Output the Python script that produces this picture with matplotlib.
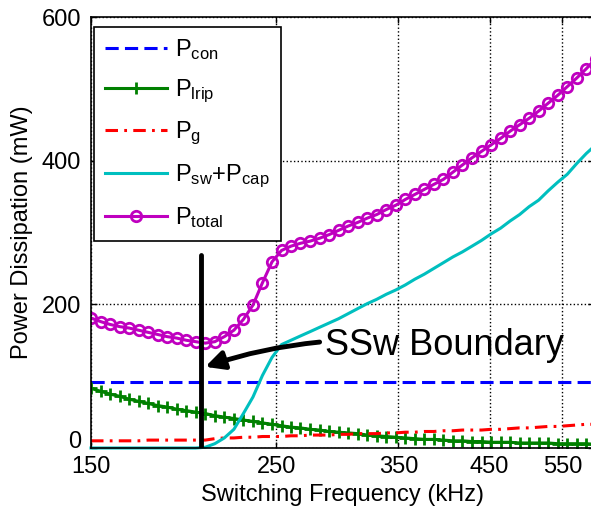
import numpy as np
import matplotlib
matplotlib.use('Agg')
import matplotlib.pyplot as plt
from matplotlib.ticker import FixedLocator, FixedFormatter, NullLocator

plt.rcParams['font.family'] = ['Liberation Sans', 'DejaVu Sans']
plt.rcParams['mathtext.fontset'] = 'custom'
plt.rcParams['mathtext.rm'] = 'Liberation Sans'
plt.rcParams['mathtext.it'] = 'Liberation Sans:italic'
plt.rcParams['lines.scale_dashes'] = False

# switching frequency grid (kHz)
freq = [150.0, 154.0, 158.1, 162.3, 166.6, 171.0, 175.6, 180.3, 185.1, 190.0,
        195.0, 200.2, 205.5, 211.0, 216.6, 222.4, 228.3, 234.4, 240.6, 247.0,
        253.6, 260.3, 267.2, 274.4, 281.6, 289.1, 296.8, 304.7, 312.8, 321.2,
        329.7, 338.5, 347.5, 356.7, 366.2, 375.9, 385.9, 396.2, 406.7, 417.5,
        428.7, 440.1, 451.8, 463.8, 476.1, 488.8, 501.8, 515.1, 528.8, 542.9,
        557.3, 572.1, 587.4, 603.0]

# power losses (mW)
p_con = [92] * len(freq)
p_lrip = [83, 79, 75, 72, 68, 65, 62, 59, 57, 54,
          52, 50, 48, 45, 43, 41, 39, 37, 35, 33,
          31, 29, 28, 26, 25, 23, 22, 21, 20, 18,
          17, 16, 15, 14, 13, 12, 12, 11, 10, 10,
          9, 9, 8, 8, 8, 7, 7, 7, 7, 6,
          6, 6, 6, 5]
p_g = [10, 10, 10, 10, 10, 10, 11, 11, 11, 11,
       11, 11, 11, 13, 14, 14, 15, 15, 16, 16,
       16, 17, 17, 18, 18, 18, 19, 19, 20, 20,
       20, 21, 21, 22, 22, 23, 23, 24, 24, 25,
       25, 25, 26, 26, 27, 28, 28, 29, 30, 30,
       31, 32, 33, 33]
p_swcap = [0, 0, 0, 0, 0, 0, 0, 0, 0, 0,
           0, 0, 1, 6, 14, 26, 48, 71, 101, 126,
           144, 150, 156, 162, 168, 174, 180, 187, 194, 201,
           207, 214, 220, 227, 235, 242, 250, 258, 266, 273,
           281, 289, 298, 306, 316, 325, 336, 345, 358, 370,
           381, 396, 410, 422]
p_total = [181, 176, 172, 169, 167, 164, 161, 158, 155, 153,
           150, 148, 146, 148, 155, 164, 179, 199, 230, 259,
           275, 281, 285, 288, 292, 297, 303, 309, 314, 320,
           325, 332, 338, 346, 353, 360, 367, 374, 384, 394,
           404, 413, 422, 431, 441, 450, 459, 469, 480, 491,
           503, 515, 528, 542]

boundary_f = 203
boundary_top = 268
xticks = [150, 250, 350, 450, 550]
yticks = [0, 200, 400, 600]

fig = plt.figure(figsize=(5.91, 5.11), dpi=100)
ax = fig.add_axes([91/591, 1-448/511, 503/591, 431/511])

ax.plot(freq, p_con, color=(0, 0, 1), lw=2.2, dashes=(9.5, 4.5), label=r'P$_{\mathrm{con}}$')
ax.plot(freq, p_lrip, color=(0, 0.5, 0), lw=2.2, marker='+', ms=8, mew=2,
        label=r'P$_{\mathrm{lrip}}$')
ax.plot(freq, p_g, color=(1, 0, 0), lw=2.2, dashes=(9, 4.5, 2, 4.5), label=r'P$_{\mathrm{g}}$')
ax.plot(freq, p_swcap, color=(0, 0.75, 0.75), lw=2.2, clip_on=False,
        label=r'P$_{\mathrm{sw}}$+P$_{\mathrm{cap}}$')
ax.plot(freq, p_total, color=(0.75, 0, 0.75), lw=2.2, marker='o', ms=7.5, mew=2,
        mfc='none', label=r'P$_{\mathrm{total}}$')

ax.plot([boundary_f, boundary_f], [0, boundary_top], color='k', lw=3.5,
        solid_capstyle='round')
ax.annotate('SSw Boundary', xy=(205.5, 113), xytext=(286, 143),
            fontsize=26, ha='left', va='center',
            arrowprops=dict(arrowstyle='-|>', color='k', lw=3.5,
                            mutation_scale=28, connectionstyle='arc3,rad=0.12',
                            shrinkA=2, shrinkB=0))

ax.set_xscale('log')
ax.set_xlim(150, 600)
ax.set_ylim(0, 600)
ax.xaxis.set_major_locator(FixedLocator(xticks))
ax.xaxis.set_major_formatter(FixedFormatter([str(t) for t in xticks]))
ax.xaxis.set_minor_locator(NullLocator())
ax.set_yticks(yticks)
ax.tick_params(direction='in', length=4, width=1, labelsize=17, top=True, right=True)
ax.tick_params(axis='x', pad=6)
ax.tick_params(axis='y', pad=7)
# bottom y label sits on the axis like in the original
ax.yaxis.get_major_ticks()[0].label1.set_verticalalignment('baseline')
ax.grid(True, color='k', linestyle=':', lw=1)
for s in ax.spines.values():
    s.set_linewidth(1.2)

ax.set_xlabel('Switching Frequency (kHz)', fontsize=17, labelpad=4)
ax.set_ylabel('Power Dissipation (mW)', fontsize=17, labelpad=6)

leg = ax.legend(loc='upper left', bbox_to_anchor=(0.006, 0.977), borderaxespad=0,
                fontsize=17, handlelength=2.65, labelspacing=0.64, handletextpad=0.35,
                borderpad=0.45, fancybox=False, framealpha=1, edgecolor='k')
leg.get_frame().set_linewidth(1.2)

fig.savefig('out.png', dpi=100)
